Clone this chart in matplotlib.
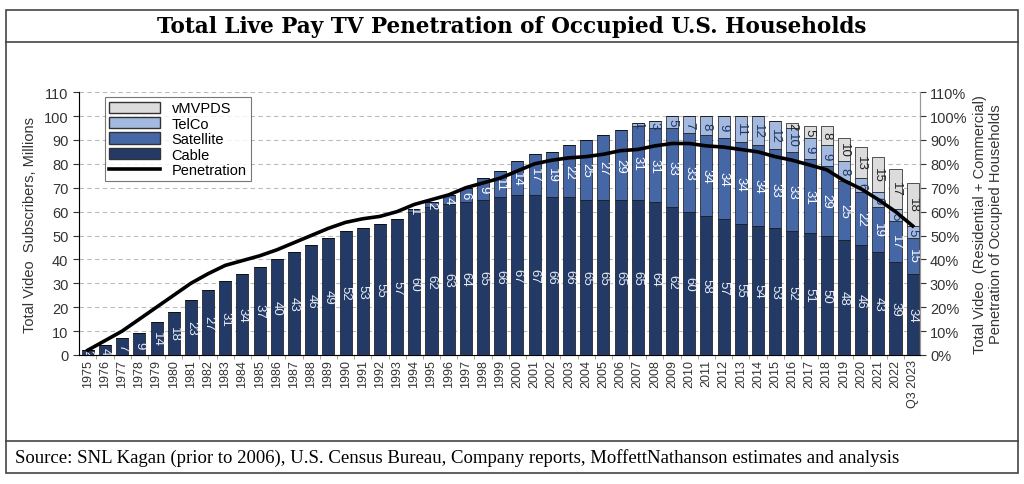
import matplotlib
matplotlib.use("Agg")
import matplotlib.pyplot as plt
from matplotlib.lines import Line2D
from matplotlib.patches import Rectangle, Patch

years = [str(y) for y in range(1975, 2023)] + ["Q3 2023"]

cable = [2, 4, 7, 9, 14, 18, 23, 27, 31, 34, 37, 40, 43, 46, 49,
         52, 53, 55, 57, 60, 62, 63, 64, 65, 66, 67, 67, 66, 66, 65,
         65, 65, 65, 64, 62, 60, 58, 57, 55, 54, 53, 52, 51, 50, 48,
         46, 43, 39, 34]
satellite = [0] * 19 + [1, 2, 4, 6, 9, 11, 14, 17, 19, 22, 25,
                        27, 29, 31, 31, 33, 33, 34, 34, 34, 34, 33, 33, 31, 29, 25,
                        22, 19, 17, 15]
telco = [0] * 32 + [1, 3, 5, 7, 8, 9, 11, 12, 12, 10, 9, 9, 8,
                    6, 6, 5, 5]
vmvpd = [0] * 41 + [2, 5, 8, 10, 13, 15, 17, 18]
penetration = [2, 6, 10, 15, 20, 25, 30, 34, 37.5, 39.5, 41.5, 44, 47, 50, 53,
               55.5, 57, 58, 60, 63, 65, 67, 70, 72, 74, 77, 80, 81.5, 82.5, 83,
               84, 85.5, 86, 87.5, 88.5, 88.5, 87.5, 87, 86, 85, 83, 81.5, 79.5, 77.5, 73,
               69.5, 65, 60, 54]

c_cable = "#233a66"
c_sat = "#4667a6"
c_telco = "#a4b9e0"
c_vm = "#dcdcdc"

fig = plt.figure(figsize=(10.24, 4.85), dpi=100)

# outer frame, title band and source band
fig.add_artist(Rectangle((0.006, 0.022), 0.988, 0.955, transform=fig.transFigure,
                         fill=False, edgecolor="#444444", lw=1.2))
fig.add_artist(Line2D([0.006, 0.994], [0.912, 0.912], transform=fig.transFigure,
                      color="#444444", lw=1.2))
fig.add_artist(Line2D([0.006, 0.994], [0.088, 0.088], transform=fig.transFigure,
                      color="#444444", lw=1.2))
fig.text(0.5, 0.944, "Total Live Pay TV Penetration of Occupied U.S. Households",
         ha="center", va="center", fontsize=15.5, fontweight="bold",
         family="DejaVu Serif")
fig.text(0.015, 0.056, "Source: SNL Kagan (prior to 2006), U.S. Census Bureau, Company reports, "
         "MoffettNathanson estimates and analysis",
         ha="left", va="center", fontsize=13.5, family="Liberation Serif")

ax = fig.add_axes([0.077, 0.266, 0.821, 0.542])
x = list(range(len(years)))
w = 0.7
bottom2 = [a + b for a, b in zip(cable, satellite)]
bottom3 = [a + b for a, b in zip(bottom2, telco)]

b1 = ax.bar(x, cable, w, color=c_cable, edgecolor="#111111", lw=0.5, zorder=2)
b2 = ax.bar(x, satellite, w, bottom=cable, color=c_sat, edgecolor="#111111", lw=0.5, zorder=2)
b3 = ax.bar(x, telco, w, bottom=bottom2, color=c_telco, edgecolor="#111111", lw=0.5, zorder=2)
b4 = ax.bar(x, vmvpd, w, bottom=bottom3, color=c_vm, edgecolor="#111111", lw=0.5, zorder=2)

for bars, vals, col in [(b1, cable, "#e8ecf4"), (b2, satellite, "white"),
                        (b3, telco, "#1f3560"), (b4, vmvpd, "#222222")]:
    ax.bar_label(bars, labels=[str(v) if v else "" for v in vals], label_type="center",
                 rotation=270, fontsize=9.5, color=col, family="Liberation Sans")

ax.set_xlim(-0.52, 48.4)
ax.set_ylim(0, 110)
ax.set_yticks(range(0, 111, 10))
ax.set_xticks(x)
ax.set_xticklabels(years, rotation=90, fontsize=9, family="Liberation Sans", color="#333333")
ax.set_xticks([i + 0.5 for i in x[:-1]], minor=True)
ax.tick_params(axis="x", which="major", length=0, pad=3)
ax.tick_params(axis="x", which="minor", length=3, color="#999999")
ax.tick_params(axis="y", labelsize=10.5, colors="#333333", length=4)
for lab in ax.get_yticklabels():
    lab.set_family("Liberation Sans")
ax.grid(axis="y", ls=(0, (4, 3)), color="#bbbbbb", lw=0.8, zorder=0)
ax.spines["top"].set_visible(False)
for s in ["left", "right", "bottom"]:
    ax.spines[s].set_color("#999999")
ax.set_ylabel("Total Video  Subscribers, Millions", fontsize=10.5, family="Liberation Sans",
              color="#333333", labelpad=5)

ax2 = ax.twinx()
ax2.plot(x, penetration, color="black", lw=2.6, zorder=5)
ax2.set_ylim(0, 110)
ax2.set_yticks(range(0, 111, 10))
ax2.set_yticklabels([f"{v}%" for v in range(0, 111, 10)], fontsize=10.5,
                    family="Liberation Sans", color="#333333")
ax2.tick_params(axis="y", length=4, colors="#333333")
ax2.spines["top"].set_visible(False)
ax2.spines["right"].set_color("#999999")
ax2.set_ylabel("Total Video  (Residential + Commercial)\nPenetration of Occupied Households",
               fontsize=10.5, family="Liberation Sans", color="#333333", labelpad=4)

handles = [Patch(facecolor=c_vm, edgecolor="#333333", label="vMVPDS"),
           Patch(facecolor=c_telco, edgecolor="#333333", label="TelCo"),
           Patch(facecolor=c_sat, edgecolor="#333333", label="Satellite"),
           Patch(facecolor=c_cable, edgecolor="#333333", label="Cable"),
           Line2D([0], [0], color="black", lw=2.6, label="Penetration")]
leg = ax2.legend(handles=handles, loc="upper left", bbox_to_anchor=(0.022, 1.01),
                 frameon=True, fancybox=False, edgecolor="#555555",
                 handlelength=3.5, handleheight=0.8, labelspacing=0.1,
                 borderpad=0.3, prop={"family": "Liberation Sans", "size": 10.5})
leg.get_frame().set_linewidth(0.8)

fig.savefig("out.png", dpi=100)
